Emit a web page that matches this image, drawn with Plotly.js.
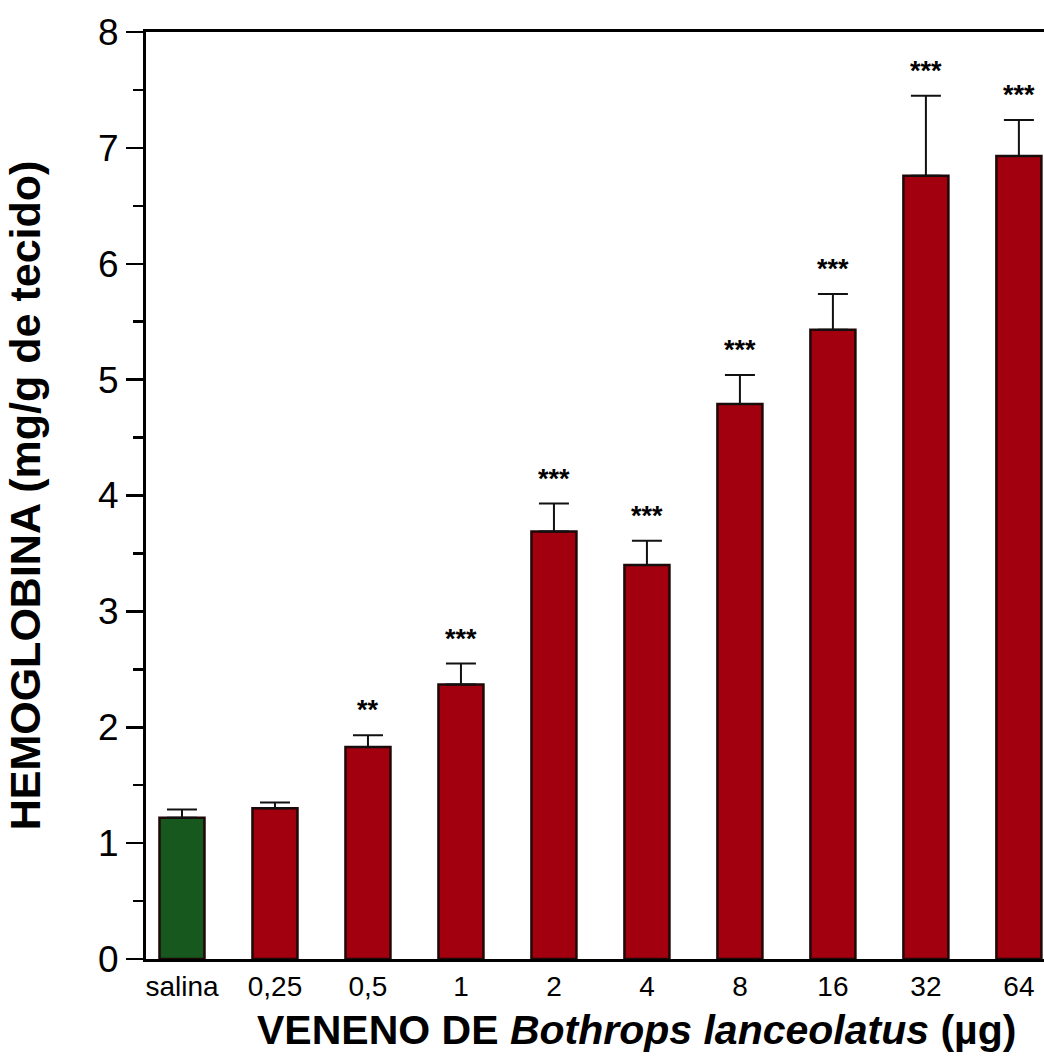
<!DOCTYPE html>
<html>
<head>
<meta charset="utf-8">
<script src="https://cdn.plot.ly/plotly-3.0.1.min.js"></script>
<style>html,body{margin:0;padding:0;background:#fff;}#chart{width:1044px;height:1057px;}</style>
</head>
<body>
<div id="chart"></div>
<script>
const categories = ['salina', '0,25', '0,5', '1', '2', '4', '8', '16', '32', '64'];
const hemoglobina = [1.22, 1.30, 1.83, 2.37, 3.69, 3.40, 4.79, 5.43, 6.76, 6.93];
const semUpper = [0.07, 0.05, 0.10, 0.18, 0.24, 0.21, 0.25, 0.31, 0.69, 0.31];
const stars = ['', '', '**', '***', '***', '***', '***', '***', '***', '***'];
const barColors = ['#17581f', '#a3000f', '#a3000f', '#a3000f', '#a3000f', '#a3000f', '#a3000f', '#a3000f', '#a3000f', '#a3000f'];
const xTitle = '<b>VENENO DE <i>Bothrops lanceolatus</i> (µg)</b>';
const yTitle = '<b>HEMOGLOBINA (mg/g de tecido)</b>';

const trace = {
  type: 'bar',
  x: categories,
  y: hemoglobina,
  marker: { color: barColors, line: { color: '#1e0808', width: 2.5 } },
  error_y: {
    type: 'data', symmetric: false, array: semUpper,
    arrayminus: semUpper.map(() => 0),
    color: '#111', thickness: 2, width: 15
  },
  hoverinfo: 'none'
};

// annotation x uses the category index (labels like "1", "2" would be read as indices)
const annotations = [];
categories.forEach((c, i) => {
  if (!stars[i]) return;
  annotations.push({
    x: i, y: hemoglobina[i] + semUpper[i], xref: 'x', yref: 'y',
    text: '<b>' + stars[i] + '</b>', showarrow: false, yanchor: 'bottom', yshift: 8,
    font: { family: 'Liberation Sans, Arial, sans-serif', size: 27, color: '#000' }
  });
});
// x-axis title, placed slightly right of the plot centre as in the original
annotations.push({
  text: xTitle, xref: 'paper', yref: 'paper', x: 0.546, y: -0.0765,
  xanchor: 'center', yanchor: 'middle', showarrow: false,
  font: { family: 'Liberation Sans, Arial, sans-serif', size: 41, color: '#000' }
});

const layout = {
  width: 1044, height: 1057,
  margin: { l: 146, r: 0, t: 32, b: 98 },
  paper_bgcolor: '#fff', plot_bgcolor: '#fff',
  showlegend: false,
  bargap: 0.516,
  font: { family: 'Liberation Sans, Arial, sans-serif', color: '#000' },
  xaxis: {
    type: 'category',
    range: [-0.387, 9.27],
    showline: true, linecolor: '#000', linewidth: 3, mirror: true,
    ticks: '', showgrid: false, zeroline: false,
    tickfont: { size: 28 },
    ticklabelstandoff: 0
  },
  yaxis: {
    range: [0, 8],
    dtick: 1, tick0: 0,
    showline: true, linecolor: '#000', linewidth: 3,
    ticks: 'outside', ticklen: 17, tickwidth: 2.5, tickcolor: '#000',
    minor: { dtick: 0.5, ticks: 'outside', ticklen: 10, tickwidth: 2.5, tickcolor: '#000' },
    showgrid: false, zeroline: false,
    tickfont: { size: 37 },
    title: {
      text: yTitle,
      font: { size: 43 }, standoff: 44
    }
  },
  annotations: annotations
};

Plotly.newPlot('chart', [trace], layout, { staticPlot: true, displayModeBar: false });
</script>
</body>
</html>
